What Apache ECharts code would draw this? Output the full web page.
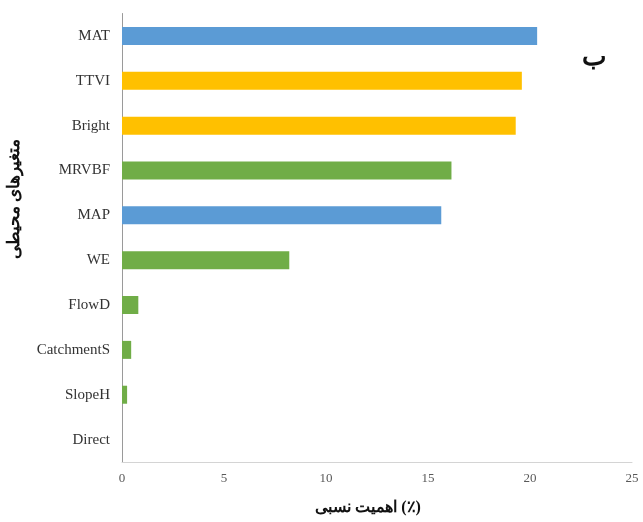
<!DOCTYPE html>
<html>
<head>
<meta charset="utf-8">
<script src="https://cdn.jsdelivr.net/npm/echarts@6/dist/echarts.min.js"></script>
<style>
  html, body { margin: 0; padding: 0; background: #fff; }
  #chart { width: 643px; height: 522px; }
</style>
</head>
<body>
<div id="chart"></div>
<script>
// Environmental variables, top to bottom
const variables = ['MAT', 'TTVI', 'Bright', 'MRVBF', 'MAP', 'WE', 'FlowD', 'CatchmentS', 'SlopeH', 'Direct'];
// Relative importance (%)
const importance = [20.35, 19.6, 19.3, 16.15, 15.65, 8.2, 0.8, 0.45, 0.25, 0];
// Variable group of each bar
const groups = ['climate', 'remote', 'remote', 'terrain', 'climate', 'terrain', 'terrain', 'terrain', 'terrain', 'terrain'];
const xTicks = [0, 5, 10, 15, 20, 25];

const groupColors = { climate: '#5B9BD5', remote: '#FFC000', terrain: '#70AD47' };
const persianFont = 'Liberation Serif';

const chart = echarts.init(document.getElementById('chart'), null, { renderer: 'canvas' });

chart.setOption({
  backgroundColor: '#ffffff',
  animation: false,
  grid: { left: 122, right: 11, top: 13.5, bottom: 60, containLabel: false },
  xAxis: {
    type: 'value',
    min: xTicks[0],
    max: xTicks[xTicks.length - 1],
    interval: 5,
    axisLine: { show: true, lineStyle: { color: '#d4d4d4', width: 1 } },
    axisTick: { show: false },
    splitLine: { show: false },
    axisLabel: {
      color: '#595959',
      fontFamily: 'Liberation Serif',
      fontSize: 13,
      margin: 10
    }
  },
  yAxis: {
    type: 'category',
    data: variables,
    inverse: true,
    axisLine: { show: true, lineStyle: { color: '#9a9a9a', width: 1 } },
    axisTick: { show: false },
    axisLabel: {
      color: '#333',
      fontFamily: 'Liberation Serif',
      fontSize: 15,
      margin: 12
    }
  },
  series: [{
    type: 'bar',
    barWidth: 18,
    data: importance.map((v, i) => ({
      value: v,
      itemStyle: { color: groupColors[groups[i]] }
    }))
  }],
  graphic: [
    {
      type: 'text',
      x: 368,
      y: 508,
      style: {
        text: 'اهمیت نسبی (٪)',
        fontFamily: persianFont,
        fontWeight: 'bold',
        fontSize: 16,
        fill: '#111',
        align: 'center',
        verticalAlign: 'middle'
      }
    },
    {
      type: 'text',
      x: 15,
      y: 199,
      rotation: Math.PI / 2,
      style: {
        text: 'متغیرهای محیطی',
        fontFamily: persianFont,
        fontWeight: 'bold',
        fontSize: 17,
        fill: '#111',
        align: 'center',
        verticalAlign: 'middle'
      }
    },
    {
      type: 'text',
      x: 594,
      y: 58,
      style: {
        text: 'ب',
        fontFamily: persianFont,
        fontWeight: 'bold',
        fontSize: 26,
        fill: '#111',
        align: 'center',
        verticalAlign: 'middle'
      }
    }
  ]
});
</script>
</body>
</html>
